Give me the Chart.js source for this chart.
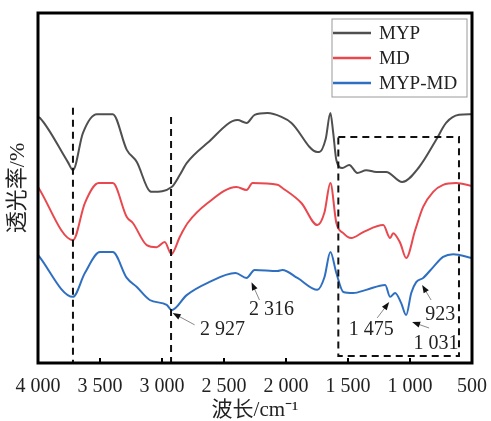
<!DOCTYPE html>
<html>
<head>
<meta charset="utf-8">
<script src="https://cdn.jsdelivr.net/npm/chart.js@4"></script>
<style>
  body { margin: 0; background: #fff; }
</style>
</head>
<body>
<canvas id="ftir" width="491" height="421"></canvas>
<script>
// series: wavenumber (cm-1) and transmittance (arbitrary %, stacked)
const seriesNames = ['MYP', 'MD', 'MYP-MD'];
const seriesColors = ['#4f4f4f', '#e8484e', '#2f6fc2'];

const mypWn = [4000, 3984, 3759, 3718, 3638, 3525, 3397, 3284, 3203, 3099, 3075, 2922, 2857, 2801, 2632, 2391, 2318, 2253, 2149, 2037, 1956, 1747, 1731, 1680, 1642, 1620, 1594, 1546, 1490, 1425, 1353, 1272, 1192, 1063, 926, 790, 709, 605, 500];
const mypT  = [70.3, 70.0, 57.4, 55.1, 65.7, 71.1, 71.1, 60.9, 57.4, 49.1, 48.9, 50.3, 53.7, 57.1, 62.9, 69.4, 68.6, 70.9, 71.4, 70.3, 68.6, 60.3, 60.3, 64.0, 71.4, 66.0, 58.0, 55.7, 56.6, 54.3, 55.1, 54.6, 54.6, 51.7, 56.0, 63.7, 68.6, 70.9, 71.1];

const mdWn = [4000, 3718, 3622, 3510, 3397, 3284, 3235, 3123, 3043, 2978, 2925, 2857, 2841, 2793, 2632, 2399, 2318, 2270, 2069, 2029, 1876, 1747, 1690, 1642, 1594, 1538, 1474, 1377, 1216, 1160, 1136, 1079, 1031, 958, 894, 813, 733, 628, 500];
const mdT  = [50.3, 35.1, 45.7, 51.4, 51.4, 41.7, 40.0, 33.7, 33.1, 34.6, 31.1, 36.0, 37.1, 40.0, 45.7, 50.3, 49.4, 51.4, 50.9, 50.0, 45.7, 39.4, 43.0, 51.4, 40.0, 37.1, 35.7, 37.4, 39.4, 35.7, 37.1, 34.3, 30.0, 38.0, 44.6, 48.9, 50.9, 51.4, 50.6];

const mixWn = [4000, 3718, 3622, 3500, 3397, 3284, 3203, 3099, 2962, 2922, 2801, 2632, 2407, 2318, 2253, 2069, 2029, 1908, 1747, 1690, 1642, 1594, 1538, 1458, 1353, 1200, 1160, 1120, 1071, 1031, 990, 950, 894, 813, 733, 652, 500];
const mixT  = [30.9, 18.9, 25.7, 31.7, 31.7, 24.3, 21.7, 18.0, 16.6, 15.1, 19.4, 22.9, 25.7, 24.3, 26.6, 26.3, 26.6, 24.3, 20.9, 24.5, 31.7, 25.7, 20.3, 20.0, 20.9, 22.3, 18.9, 20.0, 17.1, 13.7, 20.0, 23.1, 24.3, 27.4, 30.3, 31.1, 30.0];

const xTicks = [4000, 3500, 3000, 2500, 2000, 1500, 1000, 500];

// dashed guide lines and box (wavenumber, top value)
const guideWn = [3718, 2927];
const guideTop = [72.9, 70.3];
const boxWn = [1578, 605];
const boxT = [64.6, 2.0];

// peak labels: text, text centre, arrow tail, arrow head (wavenumber, value)
const peakText = ['2 927', '2 316', '1 475', '923', '1 031'];
const peakTextPos = [[2512, 9.4], [2117, 15.1], [1313, 9.4], [757, 13.7], [790, 5.4]];
const peakArrowFrom = [[2737, 10.9], [2214, 18.0], [1264, 12.9], [830, 18.0], [846, 10.0]];
const peakArrowTo = [[2914, 14.3], [2278, 23.1], [1168, 17.4], [902, 22.3], [983, 11.7]];

const serif = "'Liberation Serif', 'Times New Roman', 'Noto Sans CJK SC', serif";

function pairs(xs, ys) {
  return xs.map((x, i) => ({x: x, y: ys[i]}));
}

function fmtWn(v) {
  if (v >= 1000) return Math.floor(v / 1000) + ' ' + String(v % 1000).padStart(3, '0');
  return String(v);
}

const allSeries = [pairs(mypWn, mypT), pairs(mdWn, mdT), pairs(mixWn, mixT)];

const extras = {
  id: 'extras',
  afterDatasetsDraw(chart) {
    const {ctx, chartArea: a, scales: {x, y}} = chart;
    ctx.save();

    // dashed guides
    ctx.strokeStyle = '#111';
    ctx.lineWidth = 2;
    ctx.setLineDash([7, 5]);
    guideWn.forEach((w, i) => {
      const px = x.getPixelForValue(w);
      ctx.beginPath();
      ctx.moveTo(px, y.getPixelForValue(guideTop[i]));
      ctx.lineTo(px, a.bottom);
      ctx.stroke();
    });
    const bx0 = x.getPixelForValue(boxWn[0]), bx1 = x.getPixelForValue(boxWn[1]);
    const by0 = y.getPixelForValue(boxT[0]), by1 = y.getPixelForValue(boxT[1]);
    ctx.strokeRect(bx0, by0, bx1 - bx0, by1 - by0);
    ctx.setLineDash([]);

    // peak annotations
    ctx.font = '20px ' + serif;
    ctx.fillStyle = '#222';
    ctx.textAlign = 'center';
    ctx.textBaseline = 'middle';
    peakText.forEach((t, i) => {
      ctx.fillText(t, x.getPixelForValue(peakTextPos[i][0]), y.getPixelForValue(peakTextPos[i][1]));
      const x0 = x.getPixelForValue(peakArrowFrom[i][0]), y0 = y.getPixelForValue(peakArrowFrom[i][1]);
      const x1 = x.getPixelForValue(peakArrowTo[i][0]), y1 = y.getPixelForValue(peakArrowTo[i][1]);
      const ang = Math.atan2(y1 - y0, x1 - x0);
      ctx.strokeStyle = '#888';
      ctx.lineWidth = 1;
      ctx.beginPath();
      ctx.moveTo(x0, y0);
      ctx.lineTo(x1 - 5 * Math.cos(ang), y1 - 5 * Math.sin(ang));
      ctx.stroke();
      ctx.fillStyle = '#111';
      ctx.beginPath();
      ctx.moveTo(x1, y1);
      ctx.lineTo(x1 - 8 * Math.cos(ang) + 3 * Math.sin(ang), y1 - 8 * Math.sin(ang) - 3 * Math.cos(ang));
      ctx.lineTo(x1 - 8 * Math.cos(ang) - 3 * Math.sin(ang), y1 - 8 * Math.sin(ang) + 3 * Math.cos(ang));
      ctx.closePath();
      ctx.fill();
      ctx.fillStyle = '#222';
    });

    // inward ticks on the bottom axis
    ctx.strokeStyle = '#000';
    ctx.lineWidth = 2;
    xTicks.forEach(v => {
      const px = x.getPixelForValue(v);
      ctx.beginPath();
      ctx.moveTo(px, a.bottom);
      ctx.lineTo(px, a.bottom - 5);
      ctx.stroke();
    });

    // frame
    ctx.lineWidth = 3;
    ctx.strokeRect(a.left, a.top, a.right - a.left, a.bottom - a.top);

    // legend box
    const lw = 135, lh = 78;
    const lx = a.right - 5 - lw, ly = a.top + 6;
    ctx.fillStyle = '#fff';
    ctx.fillRect(lx, ly, lw, lh);
    ctx.strokeStyle = '#9a9a9a';
    ctx.lineWidth = 1;
    ctx.strokeRect(lx, ly, lw, lh);
    ctx.font = '19px ' + serif;
    ctx.textAlign = 'left';
    chart.data.datasets.forEach((ds, i) => {
      const cy = ly + 14 + i * 25;
      ctx.strokeStyle = ds.borderColor;
      ctx.lineWidth = 2.5;
      ctx.beginPath();
      ctx.moveTo(lx + 1, cy);
      ctx.lineTo(lx + 39, cy);
      ctx.stroke();
      ctx.fillStyle = '#222';
      ctx.fillText(ds.label, lx + 47, cy + 1);
    });
    ctx.restore();
  }
};

new Chart(document.getElementById('ftir'), {
  type: 'line',
  data: {
    datasets: seriesNames.map((name, i) => ({
      label: name,
      data: allSeries[i],
      borderColor: seriesColors[i],
      borderWidth: 2,
      pointRadius: 0,
      cubicInterpolationMode: 'monotone',
      fill: false
    }))
  },
  options: {
    responsive: false,
    devicePixelRatio: 1,
    animation: false,
    layout: { padding: { top: 13, right: 18, left: 0, bottom: 0 } },
    plugins: { legend: { display: false }, tooltip: { enabled: false } },
    scales: {
      x: {
        type: 'linear',
        reverse: true,
        min: 500,
        max: 4000,
        afterBuildTicks: s => { s.ticks = xTicks.map(v => ({value: v})); },
        afterFit: s => { s.height = 58; },
        grid: { display: false },
        border: { display: false },
        ticks: {
          padding: 4,
          maxRotation: 0,
          autoSkip: false,
          color: '#222',
          font: { family: serif, size: 20 },
          callback: v => fmtWn(v)
        },
        title: {
          display: true,
          text: '波长/cm⁻¹',
          color: '#222',
          padding: { top: 0, bottom: 0 },
          font: { family: serif, size: 21, lineHeight: 1 }
        }
      },
      y: {
        min: 0,
        max: 100,
        afterFit: s => { s.width = 38; },
        grid: { display: false },
        border: { display: false },
        ticks: { display: false },
        title: {
          display: true,
          text: '透光率/%',
          color: '#222',
          padding: { top: 6, bottom: 0 },
          font: { family: serif, size: 22, lineHeight: 1.1 }
        }
      }
    }
  },
  plugins: [extras]
});
</script>
</body>
</html>
